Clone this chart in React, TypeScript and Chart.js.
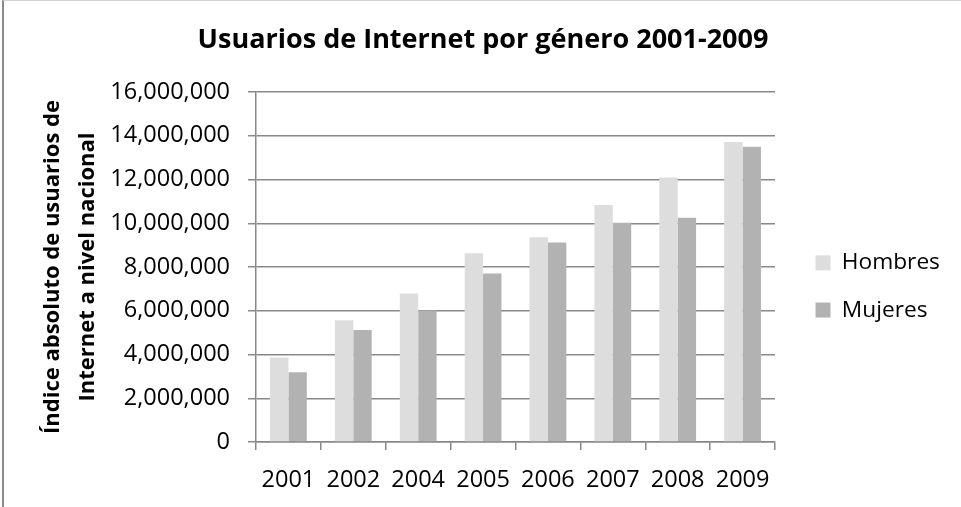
import React, { useEffect, useRef } from "react";
import { Chart, registerables } from "chart.js";

Chart.register(...registerables);

const categories = ["2001", "2002", "2004", "2005", "2006", "2007", "2008", "2009"];
const hombres = [3860000, 5570000, 6790000, 8630000, 9360000, 10830000, 12090000, 13710000];
const mujeres = [3190000, 5120000, 6010000, 7700000, 9120000, 10020000, 10250000, 13500000];
const seriesNames = ["Hombres", "Mujeres"];
const chartTitle = "Usuarios de Internet por género 2001-2009";
const yTitle = ["Índice absoluto de usuarios de", "Internet a nivel nacional"];

export default function App() {
  const ref = useRef<HTMLCanvasElement | null>(null);

  useEffect(() => {
    if (!ref.current) return;
    Chart.defaults.font.family = "'Open Sans', sans-serif";
    Chart.defaults.color = "#000";
    const grid = "#888888";
    const chart = new Chart(ref.current, {
      type: "bar",
      data: {
        labels: categories,
        datasets: [
          { label: seriesNames[0], data: hombres, backgroundColor: "#DDDDDD", borderWidth: 0, categoryPercentage: 0.567, barPercentage: 1 },
          { label: seriesNames[1], data: mujeres, backgroundColor: "#B2B2B2", borderWidth: 0, categoryPercentage: 0.567, barPercentage: 1 },
        ],
      },
      options: {
        responsive: false,
        animation: false,
        layout: { padding: { left: 21, right: 16, top: 0, bottom: 0 } },
        plugins: {
          title: {
            display: true,
            text: chartTitle,
            color: "#000",
            font: { size: 27, weight: "bold", lineHeight: 1.2 },
            padding: { top: 24, bottom: 35.6 },
          },
          legend: {
            position: "right",
            align: "start",
            fullSize: false,
            title: { display: true, text: " ", font: { size: 10, lineHeight: 1 }, padding: { top: 125, bottom: 0 } },
            labels: { font: { size: 22.7 }, boxWidth: 15, boxHeight: 15, padding: 24.5, color: "#000" },
          },
          tooltip: { enabled: false },
        },
        scales: {
          x: {
            grid: { display: true, drawOnChartArea: false, color: grid, lineWidth: 1.5, tickLength: 8, offset: true },
            border: { color: grid, width: 1.5 },
            ticks: { font: { size: 23.5 }, color: "#000", padding: 16, maxRotation: 0 },
            afterFit: (s: any) => { s.height = 65; },
          },
          y: {
            min: 0,
            max: 16000000,
            grid: { color: grid, lineWidth: 1.5, tickLength: 8 },
            border: { color: grid, width: 1.5 },
            ticks: {
              stepSize: 2000000,
              font: { size: 23.5 },
              color: "#000",
              padding: 18,
              callback: (v: any) => Number(v).toLocaleString("en-US"),
            },
            title: {
              display: true,
              text: yTitle,
              color: "#000",
              font: { size: 22, weight: "bold", lineHeight: 1.6 },
              padding: { top: 14, bottom: 0 },
            },
            afterFit: (s: any) => { s.width = 235; },
          },
          y2: {
            position: "right",
            display: true,
            grid: { display: false },
            border: { display: false },
            ticks: { display: false },
            afterFit: (s: any) => { s.width = 16; },
          },
        },
      },
    });
    return () => chart.destroy();
  }, []);

  return (
    <div style={{ position: "fixed", left: 0, top: 0, width: 961, height: 507, overflow: "hidden", background: "#fff" }}>
      <canvas ref={ref} width={961} height={507} style={{ position: "absolute", left: 0, top: 0 }} />
      <div
        style={{
          position: "absolute",
          left: 2,
          top: 0,
          width: 1200,
          height: 800,
          borderLeft: "2px solid #8a8a8a",
          borderTop: "1px solid #d0d0d0",
          pointerEvents: "none",
        }}
      />
    </div>
  );
}
